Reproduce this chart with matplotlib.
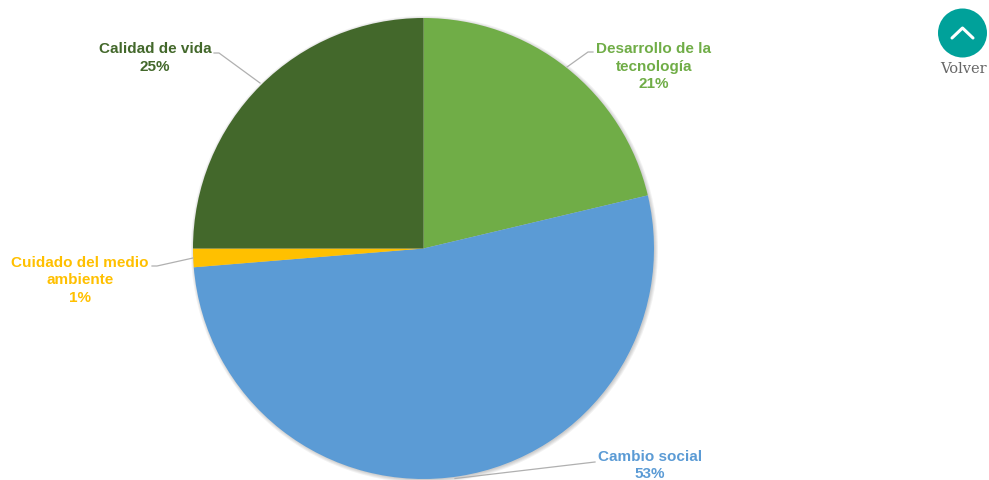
import matplotlib
matplotlib.use("Agg")
import matplotlib.pyplot as plt
from matplotlib.patches import Circle, Wedge

LABELS = ["Desarrollo de la\ntecnología\n21%", "Cambio social\n53%", "Cuidado del medio\nambiente\n1%", "Calidad de vida\n25%"]
# shares as printed are rounded, so the drawn slices use the finer values
SHARES = [21.3, 52.4, 1.3, 25.0]
COLORS = ["#70AD47", "#5B9BD5", "#FFC000", "#43682B"]
LABEL_POS = [(654, 66.5), (650, 465.5), (80, 280.5), (155, 58)]
LEADERS = [
    [(593, 53), (588, 53), (567, 68)],
    [(595, 463), (455, 479.5)],
    [(152, 267), (157, 267), (193, 259)],
    [(214, 54), (219, 54), (260, 84)],
]

W, H = 989, 481
CX, CY, R = 423.5, 249.5, 230.5

fig = plt.figure(figsize=(W / 100, H / 100), dpi=100)
ax = fig.add_axes([0, 0, 1, 1])
ax.set_xlim(0, W)
ax.set_ylim(H, 0)
ax.axis("off")

# soft shadow falling to the lower right of the pie
for grow in [3, 2, 1, 0]:
    ax.add_patch(Circle((CX + 1, CY + 1), R + grow, fc="black", alpha=0.05, ec="none", zorder=1))

# y axis is flipped, so angles run clockwise from 12 o'clock
start = -90.0
for share, col in zip(SHARES, COLORS):
    sweep = share * 3.6
    ax.add_patch(Wedge((CX, CY), R, start, start + sweep, fc=col, ec="none", zorder=2))
    start += sweep

for label, col, (x, y), leader in zip(LABELS, COLORS, LABEL_POS, LEADERS):
    ax.text(x, y, label, color=col, fontsize=11, fontweight="bold", family="Liberation Sans",
            ha="center", va="center", linespacing=1.36, zorder=4)
    ax.plot(*zip(*leader), color="#b0b0b0", lw=0.9, zorder=3)

# back-to-top button
ax.add_patch(Circle((962.5, 34), 24.5, fc="#00A19A", ec="none", zorder=2))
ax.plot([952, 962.5, 973], [39, 29, 39], color="white", lw=2.2, solid_capstyle="round", zorder=3)
ax.text(963.5, 69, "Volver", color="#666666", fontsize=10.5, family="DejaVu Serif", ha="center", va="center")

fig.savefig("out.png", dpi=100)
